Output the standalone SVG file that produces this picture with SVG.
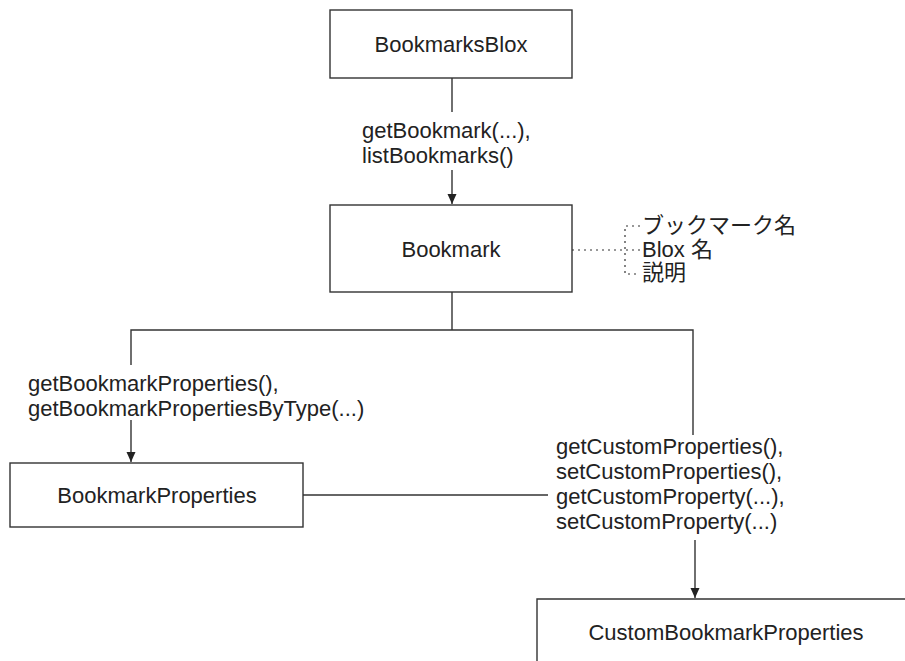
<svg xmlns="http://www.w3.org/2000/svg" width="905" height="661" viewBox="0 0 905 661">
<style>
.box{fill:#fff;stroke:#333;stroke-width:1.4}
.ln{fill:none;stroke:#333;stroke-width:1.4}
.dot{fill:none;stroke:#333;stroke-width:1.2;stroke-dasharray:2 4}
text{font-family:"Liberation Sans","Noto Sans CJK JP",sans-serif;font-size:22px;fill:#222}
.c{text-anchor:middle}
</style>
<defs>
<marker id="ah" viewBox="0 0 10 10" refX="10" refY="5" markerWidth="10" markerHeight="10" markerUnits="userSpaceOnUse" orient="auto">
<path d="M0,0.5 L10,5 L0,9.5 z" fill="#222"/>
</marker>
</defs>
<rect width="905" height="661" fill="#fff"/>
<g id="connectors">
<line class="ln" x1="452" y1="78" x2="452" y2="112"/>
<line class="ln" x1="452" y1="170" x2="452" y2="204" marker-end="url(#ah)"/>
<line class="ln" x1="452" y1="292" x2="452" y2="330"/>
<polyline class="ln" points="131,365 131,330 693,330 693,435"/>
<line class="ln" x1="131" y1="420" x2="131" y2="462" marker-end="url(#ah)"/>
<line class="ln" x1="303" y1="495" x2="548" y2="495"/>
<line class="ln" x1="695" y1="540" x2="695" y2="598" marker-end="url(#ah)"/>
<line class="dot" x1="572" y1="250" x2="640" y2="250"/>
<polyline class="dot" points="640,226 625,226 625,274 640,274"/>
</g>
<g id="labels">
<text x="362" y="138">getBookmark(...),</text>
<text x="362" y="163">listBookmarks()</text>
<text x="28" y="391">getBookmarkProperties(),</text>
<text x="28" y="416">getBookmarkPropertiesByType(...)</text>
<text x="556" y="454">getCustomProperties(),</text>
<text x="556" y="479">setCustomProperties(),</text>
<text x="556" y="504">getCustomProperty(...),</text>
<text x="556" y="529">setCustomProperty(...)</text>
<text x="642" y="233">ブックマーク名</text>
<text x="642" y="257">Blox 名</text>
<text x="642" y="280">説明</text>
</g>
<g id="BookmarksBlox">
<rect class="box" x="330" y="10" width="242" height="68"/>
<text class="c" x="451" y="52">BookmarksBlox</text>
</g>
<g id="Bookmark">
<rect class="box" x="330" y="205" width="242" height="87"/>
<text class="c" x="451" y="257">Bookmark</text>
</g>
<g id="BookmarkProperties">
<rect class="box" x="10" y="463" width="293" height="64"/>
<text class="c" x="157" y="503">BookmarkProperties</text>
</g>
<g id="CustomBookmarkProperties">
<path class="ln" d="M537,661 V599 H905"/>
<text class="c" x="726" y="640">CustomBookmarkProperties</text>
</g>
</svg>
